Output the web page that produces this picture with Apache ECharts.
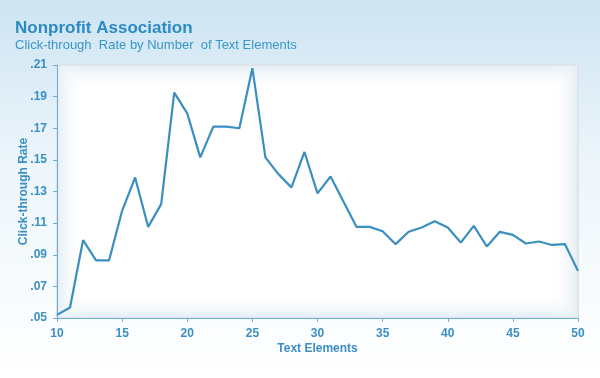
<!DOCTYPE html>
<html><head><meta charset="utf-8">
<script src="https://cdn.jsdelivr.net/npm/echarts@6/dist/echarts.min.js"></script>
<style>html,body{margin:0;padding:0;}#c{width:600px;height:378px;}</style>
</head><body><div id="c"></div>
<script>
var titleText = 'Nonprofit Association';
var subtitleText = 'Click-through  Rate by Number  of Text Elements';
var xAxisName = 'Text Elements';
var yAxisName = 'Click-through Rate';
var textElements = [10,11,12,13,14,15,16,17,18,19,20,21,22,23,24,25,26,27,28,29,30,31,32,33,34,35,36,37,38,39,40,41,42,43,44,45,46,47,48,49,50];
var clickRate = [0.052,0.0566,0.0992,0.0865,0.0865,0.1178,0.1389,0.1076,0.122,0.1925,0.1794,0.1516,0.171,0.171,0.170,0.208,0.1516,0.141,0.1326,0.155,0.1288,0.1395,0.1235,0.1076,0.1076,0.1049,0.0967,0.1045,0.1072,0.1112,0.1072,0.0977,0.1083,0.0952,0.1045,0.1026,0.0971,0.0984,0.0962,0.0967,0.0798];

var blue = '#3b8fc4';
var chart = echarts.init(document.getElementById('c'));
var data = textElements.map(function(x,i){return [x, clickRate[i]];});
var font = '"Liberation Sans", Arial, sans-serif';
var edge = '#e6eff5';
var clear = 'rgba(255,255,255,0)';
function grad(x0,y0,x1,y1){
  return new echarts.graphic.LinearGradient(x0,y0,x1,y1,[{offset:0,color:edge},{offset:1,color:clear}]);
}
// plot box: x 57..578, y 65..318
var L = 58, T = 66, R = 577, B = 317, G = 26;
chart.setOption({
  animation: false,
  backgroundColor: new echarts.graphic.LinearGradient(0,0,0,1,[
    {offset:0,color:'#cde4f2'},{offset:0.45,color:'#eef6fb'},{offset:1,color:'#ffffff'}]),
  title: {
    text: titleText, subtext: subtitleText, left: 10, top: 15, itemGap: 2,
    textStyle: {fontFamily: font, fontSize: 17, fontWeight: 'bold', color: '#2e8ac2'},
    subtextStyle: {fontFamily: font, fontSize: 13, color: '#3a95cc'}
  },
  grid: {left: 57, right: 22, top: 65, bottom: 60, show: true,
    backgroundColor: '#ffffff', borderColor: '#dde5ea', borderWidth: 2},
  graphic: [
    {type: 'rect', z: 0, silent: true, shape: {x: L, y: T, width: R-L, height: G}, style: {fill: grad(0,0,0,1)}},
    {type: 'rect', z: 0, silent: true, shape: {x: L, y: B-G, width: R-L, height: G}, style: {fill: grad(0,1,0,0)}},
    {type: 'rect', z: 0, silent: true, shape: {x: L, y: T, width: G, height: B-T}, style: {fill: grad(0,0,1,0)}},
    {type: 'rect', z: 0, silent: true, shape: {x: R-G, y: T, width: G, height: B-T}, style: {fill: grad(1,0,0,0)}}
  ],
  xAxis: {
    type: 'value', min: 10, max: 50, interval: 5,
    name: xAxisName, nameLocation: 'middle', nameGap: 25, nameMoveOverlap: false,
    nameTextStyle: {fontFamily: font, fontSize: 12, fontWeight: 'bold', color: blue},
    axisLine: {show: true, lineStyle: {color: '#6db0da', width: 1}},
    axisTick: {show: true, length: 4, lineStyle: {color: '#6db0da'}},
    axisLabel: {fontFamily: font, fontSize: 12, fontWeight: 'bold', color: blue, margin: 10},
    splitLine: {show: false}
  },
  yAxis: {
    type: 'value', min: 0.05, max: 0.21, interval: 0.02,
    name: yAxisName, nameLocation: 'middle', nameGap: 27, nameMoveOverlap: false,
    nameTextStyle: {fontFamily: font, fontSize: 12, fontWeight: 'bold', color: blue},
    axisLine: {show: true, lineStyle: {color: '#6db0da', width: 1}},
    axisTick: {show: true, length: 4, lineStyle: {color: '#6db0da'}},
    axisLabel: {fontFamily: font, fontSize: 12, fontWeight: 'bold', color: blue, margin: 10,
      formatter: function(v){return v.toFixed(2).replace(/^0/, '');}},
    splitLine: {show: false}
  },
  series: [{
    type: 'line', data: data, showSymbol: false, z: 5,
    lineStyle: {color: '#3a8fc0', width: 2.2}
  }]
});
</script></body></html>
